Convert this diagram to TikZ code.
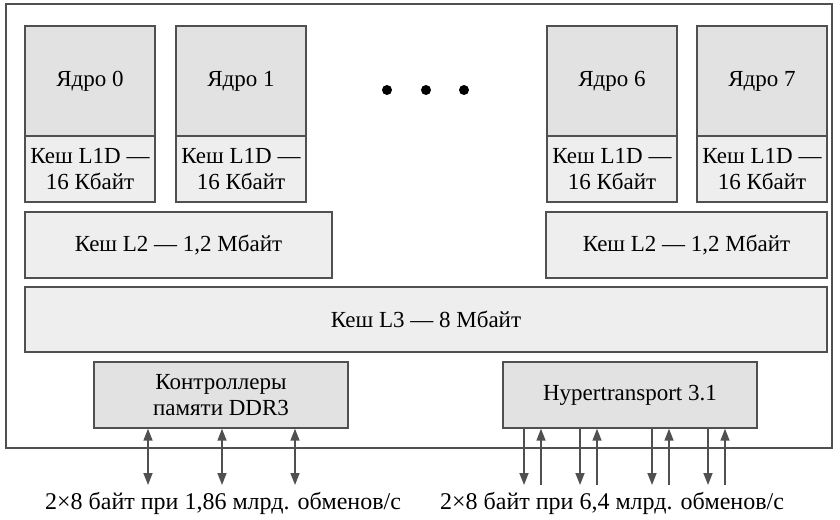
\documentclass[tikz,border=0pt]{standalone}
\usepackage{fontspec}
\setmainfont{Liberation Serif}
\usetikzlibrary{arrows.meta}
\definecolor{linec}{HTML}{505050}
\definecolor{coref}{HTML}{E2E2E2}
\definecolor{cachef}{HTML}{EEEEEE}
\tikzset{
  box/.style={draw=linec, line width=1.4pt, inner sep=0pt, align=center, font=\fontsize{23}{26}\selectfont},
  corebox/.style={box, fill=coref, minimum width=130pt, minimum height=110pt},
  l1box/.style={box, fill=cachef, minimum width=130pt, minimum height=66pt},
  cachebox/.style={box, fill=cachef, minimum height=66pt},
  ctrlbox/.style={box, fill=coref, minimum width=254pt, minimum height=66pt},
  link/.style={draw=linec, line width=1.6pt, >={Triangle[length=12pt,width=9pt]}},
  dot/.style={circle, fill=black, minimum size=10pt, inner sep=0pt},
  lbl/.style={font=\fontsize{24}{28}\selectfont, inner sep=0pt}
}
\begin{document}
\begin{tikzpicture}[x=1pt, y=-1pt]
\useasboundingbox (0,0) rectangle (840,519);
\node[draw=linec, line width=1.4pt, minimum width=826pt, minimum height=444pt, inner sep=0pt] (outer) at (419,226) {};
% cores
\node[corebox] (c0) at (90,81) {Ядро 0};
\node[corebox] (c1) at (241,81) {Ядро 1};
\node[corebox] (c6) at (612,81) {Ядро 6};
\node[corebox] (c7) at (762,81) {Ядро 7};
\node[l1box] (l0) at (90,169) {Кеш L1D —\\16 Кбайт};
\node[l1box] (l1) at (241,169) {Кеш L1D —\\16 Кбайт};
\node[l1box] (l6) at (612,169) {Кеш L1D —\\16 Кбайт};
\node[l1box] (l7) at (762,169) {Кеш L1D —\\16 Кбайт};
% dots
\node[dot] (d1) at (387,90) {};
\node[dot] (d2) at (426,90) {};
\node[dot] (d3) at (464,90) {};
% L2, L3
\node[cachebox, minimum width=307pt] (l2a) at (178.5,245) {Кеш L2 — 1,2 Мбайт};
\node[cachebox, minimum width=281pt] (l2b) at (686.5,245) {Кеш L2 — 1,2 Мбайт};
\node[cachebox, minimum width=802pt, minimum height=65pt] (l3) at (426,319.5) {Кеш L3 — 8 Мбайт};
% controllers
\node[ctrlbox] (ddr) at (221,395) {Контроллеры\\памяти DDR3};
\node[ctrlbox] (ht) at (630,395) {Hypertransport 3.1};
% arrow ends
\coordinate (a1) at (148,485);
\coordinate (a2) at (222,485);
\coordinate (a3) at (295,485);
\draw[link, <->] (ddr.south -| a1) -- (a1);
\draw[link, <->] (ddr.south -| a2) -- (a2);
\draw[link, <->] (ddr.south -| a3) -- (a3);
\coordinate (h1) at (524,485);
\coordinate (h2) at (541,485);
\coordinate (h3) at (580,485);
\coordinate (h4) at (597,485);
\coordinate (h5) at (652,485);
\coordinate (h6) at (669,485);
\coordinate (h7) at (708,485);
\coordinate (h8) at (725,485);
\draw[link, ->] (ht.south -| h1) -- (h1);
\draw[link, <-] (ht.south -| h2) -- (h2);
\draw[link, ->] (ht.south -| h3) -- (h3);
\draw[link, <-] (ht.south -| h4) -- (h4);
\draw[link, ->] (ht.south -| h5) -- (h5);
\draw[link, <-] (ht.south -| h6) -- (h6);
\draw[link, ->] (ht.south -| h7) -- (h7);
\draw[link, <-] (ht.south -| h8) -- (h8);
% labels
\node[lbl] (t1) at (223,503) {2×8 байт при 1,86 млрд. обменов/с};
\node[lbl] (t2) at (612,503) {2×8 байт при 6,4 млрд. обменов/с};
\end{tikzpicture}
\end{document}
